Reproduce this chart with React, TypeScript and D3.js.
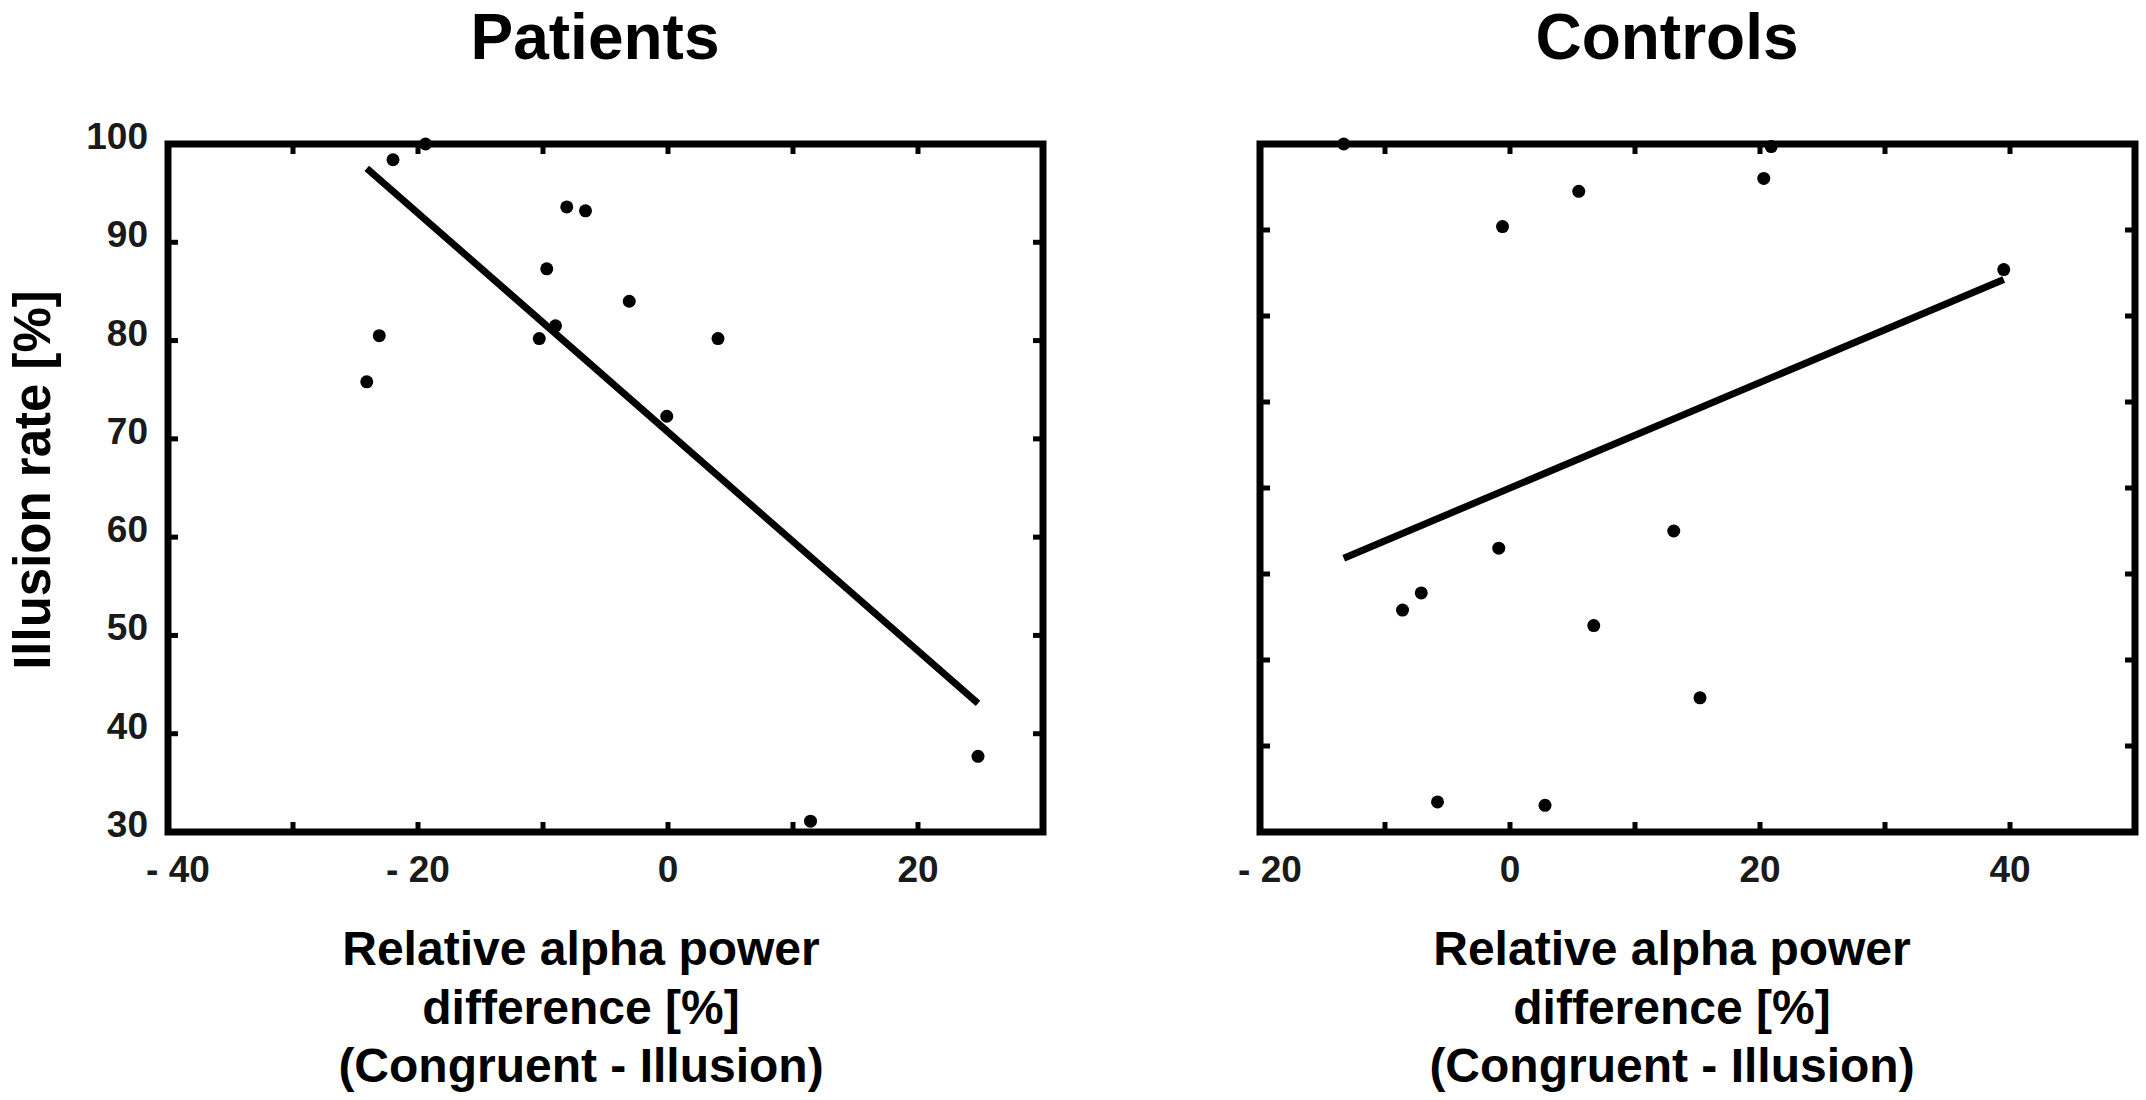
import React from "react";
import * as d3 from "d3";

// ---- data ----
const patientsX = [-24.1, -23.1, -22.0, -19.4, -10.3, -9.7, -9.0, -8.1, -6.6, -3.1, -0.1, 4.0, 11.4, 24.8];
const patientsY = [75.8, 80.5, 98.4, 100, 80.2, 87.3, 81.5, 93.6, 93.2, 84.0, 72.3, 80.2, 31.1, 37.7];

const controlsX = [-13.3, -0.6, 5.5, 20.9, 20.3, 39.5, -0.9, 13.1, -8.6, -7.1, 6.7, 15.2, -5.8, 2.8];
const controlsY = [100, 90.4, 94.5, 99.7, 96.0, 85.4, 53.0, 55.0, 45.8, 47.8, 44.0, 35.6, 23.5, 23.1];

const patientsXDomain = [-40, 30];
const patientsYDomain = [30, 100];
const controlsXDomain = [-20, 50];
const controlsYDomain = [20, 100];

const patientsXLabels = [-40, -20, 0, 20];
const controlsXLabels = [-20, 0, 20, 40];
const patientsYLabels = [30, 40, 50, 60, 70, 80, 90, 100];

const titles = ["Patients", "Controls"];
const xTitleLines = ["Relative alpha power", "difference [%]", "(Congruent - Illusion)"];
const yTitle = "Illusion rate [%]";

const FONT = "'Liberation Sans', Arial, Helvetica, sans-serif";

function fit(xs: number[], ys: number[]) {
  const mx = d3.mean(xs)!;
  const my = d3.mean(ys)!;
  let sxy = 0, sxx = 0;
  xs.forEach((x, i) => { sxy += (x - mx) * (ys[i] - my); sxx += (x - mx) * (x - mx); });
  const b = sxy / sxx;
  const a = my - b * mx;
  const [x0, x1] = d3.extent(xs) as [number, number];
  return [[x0, a + b * x0], [x1, a + b * x1]];
}

function fmt(v: number) {
  return v < 0 ? `- ${Math.abs(v)}` : `${v}`;
}

type PanelProps = {
  left: number; right: number; top: number; bottom: number;
  xs: number[]; ys: number[];
  xDomain: number[]; yDomain: number[];
  xLabels: number[]; yLabels: number[] | null;
  title: string; titleX: number; labelX: number;
};

function Panel(p: PanelProps) {
  const x = d3.scaleLinear().domain(p.xDomain).range([p.left, p.right]);
  const y = d3.scaleLinear().domain(p.yDomain).range([p.bottom, p.top]);
  const xt = d3.range(p.xDomain[0] + 10, p.xDomain[1], 10);
  const yt = d3.range(p.yDomain[0] + 10, p.yDomain[1], 10);
  const reg = fit(p.xs, p.ys);
  const line = d3.line<number[]>().x(d => x(d[0])).y(d => y(d[1]));
  const tl = 10;
  const tw = 5;
  return (
    <g>
      <text x={p.titleX} y={59} textAnchor="middle" fontFamily={FONT} fontWeight="bold" fontSize={64} fill="#000">{p.title}</text>
      {/* ticks */}
      {xt.map(v => (
        <g key={"xt" + v}>
          <line x1={x(v)} x2={x(v)} y1={p.bottom} y2={p.bottom - tl} stroke="#000" strokeWidth={tw} />
          <line x1={x(v)} x2={x(v)} y1={p.top} y2={p.top + tl} stroke="#000" strokeWidth={tw} />
        </g>
      ))}
      {yt.map(v => (
        <g key={"yt" + v}>
          <line x1={p.left} x2={p.left + tl} y1={y(v)} y2={y(v)} stroke="#000" strokeWidth={tw} />
          <line x1={p.right} x2={p.right - tl} y1={y(v)} y2={y(v)} stroke="#000" strokeWidth={tw} />
        </g>
      ))}
      {/* frame */}
      <rect x={p.left} y={p.top} width={p.right - p.left} height={p.bottom - p.top} fill="none" stroke="#000" strokeWidth={7} />
      {/* regression */}
      <path d={line(reg) || ""} stroke="#000" strokeWidth={7} fill="none" />
      {/* points */}
      {p.xs.map((v, i) => (
        <circle key={"pt" + i} cx={x(v)} cy={y(p.ys[i])} r={6.5} fill="#000" />
      ))}
      {/* x tick labels */}
      {p.xLabels.map(v => (
        <text key={"xl" + v} x={x(v) + (v === p.xDomain[0] ? 10 : 0)} y={882} textAnchor="middle" fontFamily={FONT} fontWeight="bold" fontSize={37} fill="#1a1a1a">{fmt(v)}</text>
      ))}
      {p.yLabels && p.yLabels.map(v => (
        <text key={"yl" + v} x={148} y={y(v) + 5} textAnchor="end" fontFamily={FONT} fontWeight="bold" fontSize={37} fill="#1a1a1a">{v}</text>
      ))}
      {xTitleLines.map((s, i) => (
        <text key={"xtl" + i} x={p.labelX} y={965 + i * 58.5} textAnchor="middle" fontFamily={FONT} fontWeight="bold" fontSize={48} fill="#000">{s}</text>
      ))}
    </g>
  );
}

export default function App() {
  const top = 144, bottom = 832;
  return (
    <svg width={2146} height={1100} style={{ position: "absolute", left: 0, top: 0, background: "#fff" }}>
      <rect x={0} y={0} width={2146} height={1100} fill="#fff" />
      <Panel left={168} right={1043} top={top} bottom={bottom}
        xs={patientsX} ys={patientsY} xDomain={patientsXDomain} yDomain={patientsYDomain}
        xLabels={patientsXLabels} yLabels={patientsYLabels}
        title={titles[0]} titleX={595} labelX={581} />
      <Panel left={1260} right={2135} top={top} bottom={bottom}
        xs={controlsX} ys={controlsY} xDomain={controlsXDomain} yDomain={controlsYDomain}
        xLabels={controlsXLabels} yLabels={null}
        title={titles[1]} titleX={1667} labelX={1672} />
      <text transform={`translate(50, 480) rotate(-90)`} textAnchor="middle" fontFamily={FONT} fontWeight="bold" fontSize={51} fill="#000">{yTitle}</text>
    </svg>
  );
}
